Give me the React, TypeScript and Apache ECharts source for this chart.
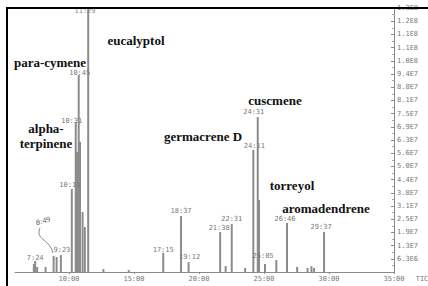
import React, { useEffect, useRef } from 'react';
import * as echarts from 'echarts';

// retention time (min) of each peak
const peakTimes = [7.3, 7.4, 7.55, 8.2, 8.82, 9.05, 9.38, 10.22, 10.52, 10.62, 10.75, 10.85, 11.05, 11.22, 11.48, 12.65, 14.6, 17.25, 18.62, 19.2, 21.63, 22.05, 22.52, 23.55, 24.18, 24.52, 24.62, 25.08, 25.95, 26.77, 27.55, 28.35, 28.65, 28.85, 29.62];
// abundance (x 1e6 counts)
const peakAbundance = [3.8, 5.2, 2.4, 2.4, 7.6, 7.1, 8.0, 39.3, 71.0, 56.8, 93.3, 61.6, 28.4, 21.3, 190, 1.4, 0.9, 9.0, 26.5, 4.7, 18.9, 2.8, 22.7, 1.9, 57.8, 73.4, 34.1, 3.8, 5.7, 23.2, 2.4, 1.9, 2.8, 1.9, 18.9];
// retention-time labels printed over peaks
const peakLabels = ['', '7:24', '', '', '', '', '9:23', '10:13', '10:31', '', '10:45', '', '', '', '', '', '', '17:15', '18:37', '19:12', '21:38', '', '22:31', '', '24:11', '24:31', '', '25:05', '', '26:46', '', '', '', '', '29:37'];
const offScaleLabel = '11:29';
const handLabel = '8:49';

const xTickValues = [10, 15, 20, 25, 30, 35];
const xTickLabels = ['10:00', '15:00', '20:00', '25:00', '30:00', '35:00'];
const yTickLabels = ['', '6.3E6', '1.3E7', '1.9E7', '2.5E7', '3.1E7', '3.8E7', '4.4E7', '5.0E7', '5.6E7', '6.3E7', '6.9E7', '7.5E7', '8.1E7', '8.8E7', '9.4E7', '1.0E8', '1.1E8', '1.1E8', '1.2E8', '1.3E8'];
const compoundNames = ['eucalyptol', 'para-cymene', 'alpha-', 'terpinene', 'germacrene D', 'cuscmene', 'torreyol', 'aromadendrene'];

// label offsets (style only)
const labelOffsets: Record<string, [number, number]> = {
  '7:24': [0, 2.5], '9:23': [1, 0], '10:13': [-2, 1.5], '10:31': [-4, 4.5], '10:45': [1, 3.5],
  '17:15': [0, 2.5], '18:37': [0, 0.5], '19:12': [1, 0], '21:38': [-1, 1.5], '22:31': [0, 0.5],
  '24:11': [1, 1.5], '24:31': [-4, 0.5], '25:05': [-2, -2.5], '26:46': [-2, 1.5], '29:37': [-3, 0.5],
};
const namePos: [number, number][] = [[136, 40], [50, 62], [46, 128], [46, 143], [203, 136], [275, 100], [292, 185], [326, 208]];

const MONO = 'DejaVu Sans Mono';
const SERIF = '"Times New Roman", "Liberation Serif", serif';

export default function App() {
  const ref = useRef<HTMLDivElement>(null);
  useEffect(() => {
    if (!ref.current) return;
    const chart = echarts.init(ref.current, undefined, { renderer: 'svg' });
    const data = peakTimes.map((t, i) => {
      const lab = peakLabels[i];
      const item: any = { value: [t, peakAbundance[i]] };
      if (lab) {
        item.label = {
          show: true,
          position: 'top',
          distance: 2,
          offset: labelOffsets[lab] || [0, 0],
          formatter: lab,
          fontFamily: MONO,
          fontSize: 7,
          color: '#777',
        };
      }
      return item;
    });
    const graphics: any[] = compoundNames.map((n, i) => ({
      type: 'text',
      x: namePos[i][0],
      y: namePos[i][1],
      z: 50,
      style: {
        text: n,
        fill: '#111',
        fontFamily: SERIF,
        fontWeight: 'bold',
        fontSize: 13,
        textAlign: 'center',
        textVerticalAlign: 'middle',
      },
    }));
    graphics.push(
      { type: 'text', x: 85, y: 11, z: 50, style: { text: offScaleLabel, fill: '#888', fontFamily: MONO, fontSize: 7, textAlign: 'center', textVerticalAlign: 'middle' } },
      { type: 'text', x: 43, y: 221, rotation: 0.25, z: 50, style: { text: handLabel, fill: '#555', fontFamily: SERIF, fontStyle: 'italic', fontSize: 8, textAlign: 'center', textVerticalAlign: 'middle' } },
      { type: 'bezierCurve', z: 50, shape: { x1: 40, y1: 228, cpx1: 35, cpy1: 240, cpx2: 49, cpy2: 238, x2: 53, y2: 253 }, style: { stroke: '#666', lineWidth: 0.8, fill: 'none' } },
      { type: 'text', x: 422, y: 279, z: 50, style: { text: 'TIC', fill: '#777', fontFamily: MONO, fontSize: 7, textAlign: 'center', textVerticalAlign: 'middle' } },
      { type: 'line', z: 100, shape: { x1: 7, y1: 8, x2: 428, y2: 8 }, style: { stroke: '#000', lineWidth: 2 } },
      { type: 'line', z: 100, shape: { x1: 7, y1: 7, x2: 7, y2: 286 }, style: { stroke: '#000', lineWidth: 2 } },
    );
    chart.setOption({
      animation: false,
      backgroundColor: '#fff',
      grid: { left: 15, right: 34, top: 8, bottom: 14 },
      xAxis: {
        type: 'value',
        min: 5.85,
        max: 35,
        axisLine: { show: true, lineStyle: { color: '#8a8a8a', width: 1 } },
        axisTick: { show: true, customValues: xTickValues, length: 2, lineStyle: { color: '#8a8a8a' } },
        splitLine: { show: false },
        axisLabel: {
          customValues: xTickValues,
          formatter: (v: number) => {
            const i = xTickValues.indexOf(Math.round(v));
            return i >= 0 ? xTickLabels[i] : '';
          },
          fontFamily: MONO,
          fontSize: 7,
          color: '#777',
          margin: 3,
        },
      },
      yAxis: {
        type: 'value',
        position: 'right',
        min: 0,
        max: 125,
        interval: 6.25,
        axisLine: { show: true, lineStyle: { color: '#8a8a8a', width: 1 } },
        axisTick: { show: true, inside: true, length: 3, lineStyle: { color: '#8a8a8a' } },
        minorTick: { show: true, splitNumber: 2, length: 2, lineStyle: { color: '#aaa' } },
        splitLine: { show: false },
        axisLabel: {
          formatter: (v: number) => yTickLabels[Math.round(v / 6.25)] ?? '',
          fontFamily: MONO,
          fontSize: 7,
          color: '#777',
          margin: 3,
          showMaxLabel: true,
        },
      },
      series: [
        {
          type: 'bar',
          data,
          barWidth: 2,
          clip: true,
          itemStyle: { color: '#8c8c8c' },
        },
      ],
      graphic: graphics,
    });
    return () => chart.dispose();
  }, []);
  return <div ref={ref} style={{ position: 'absolute', left: 0, top: 0, width: 428, height: 286, background: '#fff' }} />;
}
